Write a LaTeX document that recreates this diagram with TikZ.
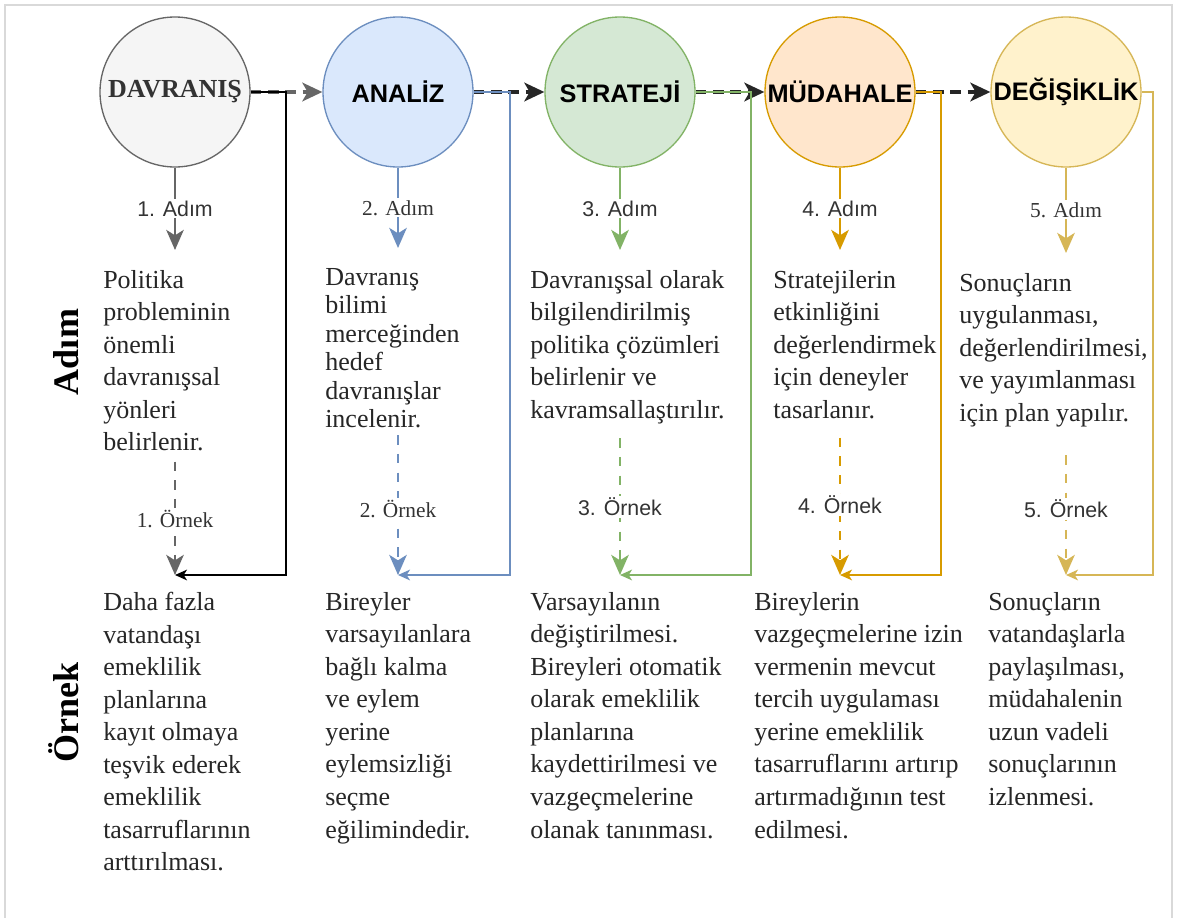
\documentclass[tikz,border=0pt]{standalone}
\usepackage{fontspec}
\setmainfont{Liberation Serif}
\newfontfamily\arialfont{Liberation Sans}
\usetikzlibrary{arrows.meta}

\definecolor{davfill}{HTML}{F5F5F5}
\definecolor{davline}{HTML}{666666}
\definecolor{anfill}{HTML}{DAE8FC}
\definecolor{anline}{HTML}{6C8EBF}
\definecolor{strfill}{HTML}{D5E8D4}
\definecolor{strline}{HTML}{82B366}
\definecolor{mudfill}{HTML}{FFE6CC}
\definecolor{mudline}{HTML}{D79B00}
\definecolor{degfill}{HTML}{FFF2CC}
\definecolor{degline}{HTML}{D6B656}
\definecolor{framecol}{HTML}{D9D9D9}

\begin{document}
\begin{tikzpicture}[x=0.75pt, y=-0.75pt,
	circ/.style={circle, draw, line width=1pt, minimum size=112.5pt, inner sep=0pt,
		font=\arialfont\fontsize{19}{22}\selectfont\bfseries},
	steptext/.style={anchor=north west, inner sep=0pt, align=left, text=black!85,
		font=\fontsize{19.5}{24.4}\selectfont},
	lbl/.style={fill=white, inner sep=1.5pt, text=black!80, font=\fontsize{16}{18}\selectfont},
	steparrow/.style={line width=2.2pt, shorten >=15pt, -{Stealth[length=15pt, width=13pt, inset=4pt]}},
	examplearrow/.style={line width=2.2pt, dash pattern=on 7pt off 7pt, -{Stealth[length=15pt, width=13pt, inset=4pt]}},
	flowarrow/.style={line width=2.5pt, dash pattern=on 8pt off 5pt, -{Stealth[length=15pt, width=14pt, inset=4pt]}},
	backarrow/.style={line width=1.3pt, -{Stealth[length=9pt, width=8pt, inset=2.5pt]}}
	]
	\useasboundingbox (0,0) rectangle (1179,918);
	\fill[white] (0,0) rectangle (1179,918);
	\draw[framecol, line width=1.2pt] (5,918) -- (5,5) -- (1172,5) -- (1172,918);
	
	% Side headings
	\node[rotate=90, font=\fontsize{27}{30}\selectfont\bfseries] (adimbaslik) at (66,352) {Adım};
	\node[rotate=90, font=\fontsize{27}{30}\selectfont\bfseries] (ornekbaslik) at (64,712) {Örnek};
	
	% Circles
	\node[
	circ,
	fill=davfill,
	draw=davline,
	text=black!80,
	font=\fontsize{19.5}{22}\selectfont\bfseries
	] (davranis) at (175,92) {DAVRANIŞ};
	
	\node[circ, fill=anfill, draw=anline] (analiz) at (398,92) {ANALİZ};
	\node[circ, fill=strfill, draw=strline] (strateji) at (620,92) {STRATEJİ};
	\node[circ, fill=mudfill, draw=mudline] (mudahale) at (840,92) {MÜDAHALE};
	\node[circ, fill=degfill, draw=degline] (degisiklik) at (1066,92) {DEĞİŞİKLİK};
	
	% Step texts
	\node[steptext] (adim1) at (103,270)
	{Politika\\probleminin\\önemli\\davranışsal\\yönleri\\belirlenir.};
	
	\node[
	steptext,
	font=\fontsize{19.5}{21.4}\selectfont
	] (adim2) at (325,268)
	{Davranış\\bilimi\\merceğinden\\hedef\\davranışlar\\incelenir.};
	
	\node[steptext] (adim3) at (530,270)
	{Davranışsal olarak\\bilgilendirilmiş\\politika çözümleri\\belirlenir ve\\kavramsallaştırılır.};
	
	\node[steptext] (adim4) at (773,270)
	{Stratejilerin\\etkinliğini\\değerlendirmek\\için deneyler\\tasarlanır.};
	
	\node[steptext] (adim5) at (959,273)
	{Sonuçların\\uygulanması,\\değerlendirilmesi,\\ve yayımlanması\\için plan yapılır.};
	
	% Example texts
	\node[steptext] (ornek1) at (103,592)
	{Daha fazla\\vatandaşı\\emeklilik\\planlarına\\kayıt olmaya\\teşvik ederek\\emeklilik\\tasarruflarının\\arttırılması.};
	
	\node[steptext] (ornek2) at (325,592)
	{Bireyler\\varsayılanlara\\bağlı kalma\\ve eylem\\yerine\\eylemsizliği\\seçme\\eğilimindedir.};
	
	\node[steptext] (ornek3) at (530,592)
	{Varsayılanın\\değiştirilmesi.\\Bireyleri otomatik\\olarak emeklilik\\planlarına\\kaydettirilmesi ve\\vazgeçmelerine\\olanak tanınması.};
	
	\node[steptext] (ornek4) at (754,592)
	{Bireylerin\\vazgeçmelerine izin\\vermenin mevcut\\tercih uygulaması\\yerine emeklilik\\tasarruflarını artırıp\\artırmadığının test\\edilmesi.};
	
	\node[steptext] (ornek5) at (988,592)
	{Sonuçların\\vatandaşlarla\\paylaşılması,\\müdahalenin\\uzun vadeli\\sonuçlarının\\izlenmesi.};
	
	% Arrow ends above the examples
	\coordinate (hedef1) at (175,575);
	\coordinate (hedef2) at (398,575);
	\coordinate (hedef3) at (620,575);
	\coordinate (hedef4) at (840,575);
	\coordinate (hedef5) at (1066,575);
	
	% Flow between circles
	\draw[flowarrow, davline] (davranis.east) -- (analiz.west);
	\draw[flowarrow, black!85] (analiz.east) -- (strateji.west);
	\draw[flowarrow, black!85] (strateji.east) -- (mudahale.west);
	\draw[flowarrow, black!85] (mudahale.east) -- (degisiklik.west);
	
	% Lines back down to the examples
	\draw[backarrow, black] (davranis.east) -- ++(35,0) |- (hedef1);
	\draw[backarrow, anline] (analiz.east) -- ++(36,0) |- (hedef2);
	\draw[backarrow, strline] (strateji.east) -- ++(55,0) |- (hedef3);
	\draw[backarrow, mudline] (mudahale.east) -- ++(25,0) |- (hedef4);
	\draw[backarrow, degline] (degisiklik.east) -- ++(11,0) |- (hedef5);
	
	% Steps
	\draw[steparrow, davline] (davranis.south) -- node[lbl, pos=0.4]{\arialfont 1. Adım} (davranis |- adim1.north);
	\draw[steparrow, anline] (analiz.south) -- node[lbl, pos=0.4]{2. Adım} (analiz |- adim2.north);
	\draw[steparrow, strline] (strateji.south) -- node[lbl, pos=0.4]{\arialfont 3. Adım} (strateji |- adim3.north);
	\draw[steparrow, mudline] (mudahale.south) -- node[lbl, pos=0.4]{\arialfont 4. Adım} (mudahale |- adim4.north);
	\draw[steparrow, degline] (degisiklik.south) -- node[lbl, pos=0.4]{5. Adım} (degisiklik |- adim5.north);
	
	% Examples
	\draw[examplearrow, davline, shorten <=7.5pt] (davranis |- adim1.south) -- node[lbl, pos=0.55]{1. Örnek} (hedef1);
	\draw[examplearrow, anline, shorten <=5pt] (analiz |- adim2.south) -- node[lbl, pos=0.55]{2. Örnek} (hedef2);
	\draw[examplearrow, strline, shorten <=10.5pt] (strateji |- adim3.south) -- node[lbl, pos=0.55]{\arialfont 3. Örnek} (hedef3);
	\draw[examplearrow, mudline, shorten <=14pt] (mudahale |- adim4.south) -- node[lbl, pos=0.55]{\arialfont 4. Örnek} (hedef4);
	\draw[examplearrow, degline, shorten <=21pt] (degisiklik |- adim5.south) -- node[lbl, pos=0.55]{\arialfont 5. Örnek} (hedef5);
\end{tikzpicture}
\end{document}
